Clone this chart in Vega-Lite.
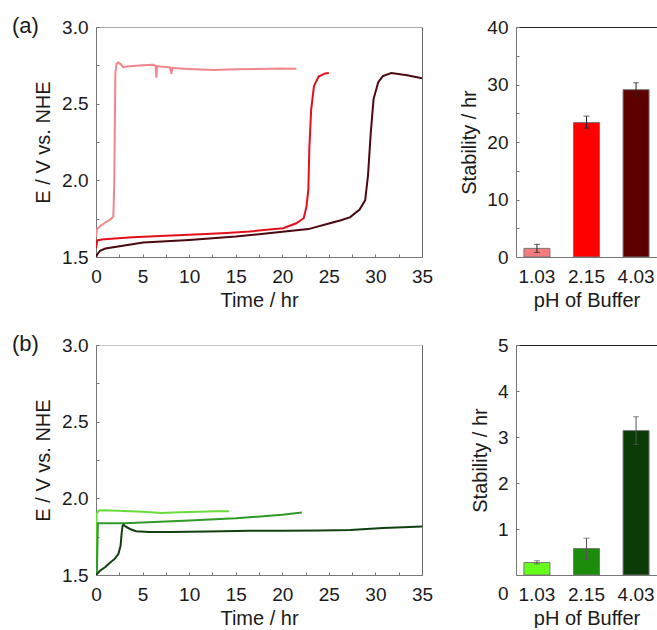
{
  "$schema": "https://vega.github.io/schema/vega-lite/v6.json",
  "autosize": {"type": "pad"},
  "padding": {"left": 12, "top": 15, "right": 0, "bottom": 0},
  "background": "white",
  "config": {
    "font": "Liberation Sans",
    "view": {"stroke": null},
    "axis": {
      "labelFont": "Liberation Sans", "titleFont": "Liberation Sans",
      "labelFontSize": 19, "titleFontSize": 20, "titleFontWeight": "normal",
      "labelColor": "#1a1a1a", "titleColor": "#1a1a1a",
      "domainColor": "#777", "tickColor": "#777", "tickSize": -3,
      "grid": false, "labelOverlap": false, "labelFlush": false
    },
    "title": {"font": "Liberation Sans", "fontSize": 22, "fontWeight": "normal", "color": "#1a1a1a"}
  },
  "resolve": {"scale": {"color": "independent"}},
  "columns": 2,
  "bounds": "flush",
  "spacing": {"row": 88, "column": 94},
  "concat": [
    {
      "width": 326, "height": 230,
      "title": {"text": "(a)", "anchor": "start", "frame": "group", "dx": -84, "dy": 37, "offset": 0, "baseline": "alphabetic"},
      "data": {"name": "lineA"},
      "layer": [
        {
          "mark": {"type": "line", "strokeWidth": 2, "clip": true},
          "encoding": {
            "x": {"field": "t", "type": "quantitative", "title": "Time / hr",
              "scale": {"domain": [0, 35], "nice": false, "zero": false},
              "axis": {"values": [0,2.5,5,7.5,10,12.5,15,17.5,20,22.5,25,27.5,30,32.5,35], "labelExpr": "datum.value % 5 == 0 ? datum.label : ''", "labelPadding": 13, "titlePadding": 4}},
            "y": {"field": "E", "type": "quantitative", "title": "E / V vs. NHE",
              "scale": {"domain": [1.5, 3.0], "nice": false, "zero": false},
              "axis": {"values": [1.5,1.75,2.0,2.25,2.5,2.75,3.0], "format": ".1f", "labelExpr": "round(datum.value*100) % 50 == 0 ? datum.label : ''", "labelPadding": 11, "titlePadding": 8}},
            "color": {"field": "pH", "type": "nominal", "legend": null,
              "scale": {"domain": ["1.03","2.15","4.03"], "range": ["#F2868C","#E3101B","#4A0810"]}}
          }
        },
        {
          "mark": {"type": "line", "opacity": 0},
          "encoding": {
            "x": {"field": "t", "type": "quantitative", "axis": {"orient": "top", "ticks": false, "labels": false, "title": null, "domainColor": "#aaa"}},
            "y": {"field": "E", "type": "quantitative", "axis": {"orient": "right", "ticks": false, "labels": false, "title": null, "domainColor": "#666"}}
          }
        }
      ],
      "resolve": {"axis": {"x": "independent", "y": "independent"}}
    },
    {
      "width": 141, "height": 230,
      "data": {"name": "barA"},
      "layer": [
        {
          "mark": {"type": "bar", "stroke": "#777", "strokeWidth": 1},
          "encoding": {
            "x": {"field": "pH", "type": "nominal", "title": "pH of Buffer",
              "scale": {"paddingInner": 0.475, "paddingOuter": 0.16},
              "axis": {"labelAngle": 0, "ticks": false, "labelPadding": 10, "titlePadding": 4}},
            "y": {"field": "v", "type": "quantitative", "title": "Stability / hr",
              "scale": {"domain": [0, 40], "nice": false},
              "axis": {"values": [0,5,10,15,20,25,30,35,40], "format": "d", "labelExpr": "datum.value % 10 == 0 ? datum.label : ''", "labelPadding": 11, "titlePadding": 7}},
            "color": {"field": "pH", "type": "nominal", "legend": null,
              "scale": {"domain": ["1.03","2.15","4.03"], "range": ["#F47C80","#FF0000","#5E0000"]}}
          }
        },
        {
          "mark": {"type": "errorbar", "ticks": {"size": 6}, "color": "#222"},
          "encoding": {
            "x": {"field": "pH", "type": "nominal", "axis": null},
            "y": {"field": "lo", "type": "quantitative", "axis": null},
            "y2": {"field": "hi"}
          }
        },
        {
          "mark": {"type": "bar", "opacity": 0},
          "encoding": {
            "x": {"field": "pH", "type": "nominal", "axis": {"orient": "top", "ticks": false, "labels": false, "title": null, "domainColor": "#222"}},
            "y": {"field": "v", "type": "quantitative", "axis": null}
          }
        }
      ],
      "resolve": {"axis": {"x": "independent", "y": "independent"}}
    },
    {
      "width": 326, "height": 230,
      "title": {"text": "(b)", "anchor": "start", "frame": "group", "dx": -84, "dy": 37, "offset": 0, "baseline": "alphabetic"},
      "data": {"name": "lineB"},
      "layer": [
        {
          "mark": {"type": "line", "strokeWidth": 2, "clip": true},
          "encoding": {
            "x": {"field": "t", "type": "quantitative", "title": "Time / hr",
              "scale": {"domain": [0, 35], "nice": false, "zero": false},
              "axis": {"values": [0,2.5,5,7.5,10,12.5,15,17.5,20,22.5,25,27.5,30,32.5,35], "labelExpr": "datum.value % 5 == 0 ? datum.label : ''", "labelPadding": 13, "titlePadding": 4}},
            "y": {"field": "E", "type": "quantitative", "title": "E / V vs. NHE",
              "scale": {"domain": [1.5, 3.0], "nice": false, "zero": false},
              "axis": {"values": [1.5,1.75,2.0,2.25,2.5,2.75,3.0], "format": ".1f", "labelExpr": "round(datum.value*100) % 50 == 0 ? datum.label : ''", "labelPadding": 11, "titlePadding": 8}},
            "color": {"field": "pH", "type": "nominal", "legend": null,
              "scale": {"domain": ["1.03","2.15","4.03"], "range": ["#6ADB3C","#2F9A27","#123F10"]}}
          }
        },
        {
          "mark": {"type": "line", "opacity": 0},
          "encoding": {
            "x": {"field": "t", "type": "quantitative", "axis": {"orient": "top", "ticks": false, "labels": false, "title": null, "domainColor": "#ccc"}},
            "y": {"field": "E", "type": "quantitative", "axis": {"orient": "right", "ticks": false, "labels": false, "title": null, "domainColor": "#666"}}
          }
        }
      ],
      "resolve": {"axis": {"x": "independent", "y": "independent"}}
    },
    {
      "width": 141, "height": 230,
      "data": {"name": "barB"},
      "layer": [
        {
          "mark": {"type": "bar", "stroke": "#777", "strokeWidth": 1},
          "encoding": {
            "x": {"field": "pH", "type": "nominal", "title": "pH of Buffer",
              "scale": {"paddingInner": 0.475, "paddingOuter": 0.16},
              "axis": {"labelAngle": 0, "ticks": false, "labelPadding": 10, "titlePadding": 4}},
            "y": {"field": "v", "type": "quantitative", "title": "Stability / hr",
              "scale": {"domain": [0, 5], "nice": false},
              "axis": {"values": [0,0.5,1,1.5,2,2.5,3,3.5,4,4.5,5], "format": "d", "labelExpr": "datum.value % 1 == 0 ? datum.label : ''", "labelPadding": 11, "titlePadding": 7,
                "labelOffset": {"condition": {"test": "datum.value == 0", "value": 18}, "value": 0}}},
            "color": {"field": "pH", "type": "nominal", "legend": null,
              "scale": {"domain": ["1.03","2.15","4.03"], "range": ["#66FF1A","#1C8C0C","#0A3A06"]}}
          }
        },
        {
          "mark": {"type": "errorbar", "ticks": {"size": 6}, "color": "#555"},
          "encoding": {
            "x": {"field": "pH", "type": "nominal", "axis": null},
            "y": {"field": "lo", "type": "quantitative", "axis": null},
            "y2": {"field": "hi"}
          }
        },
        {
          "mark": {"type": "bar", "opacity": 0},
          "encoding": {
            "x": {"field": "pH", "type": "nominal", "axis": {"orient": "top", "ticks": false, "labels": false, "title": null, "domainColor": "#222"}},
            "y": {"field": "v", "type": "quantitative", "axis": null}
          }
        }
      ],
      "resolve": {"axis": {"x": "independent", "y": "independent"}}
    }
  ],
  "datasets": {
    "barA": [
      {"pH": "1.03", "v": 1.5, "lo": 0.8, "hi": 2.2},
      {"pH": "2.15", "v": 23.4, "lo": 22.4, "hi": 24.5},
      {"pH": "4.03", "v": 29.1, "lo": 28.0, "hi": 30.3}
    ],
    "barB": [
      {"pH": "1.03", "v": 0.27, "lo": 0.24, "hi": 0.31},
      {"pH": "2.15", "v": 0.575, "lo": 0.34, "hi": 0.8},
      {"pH": "4.03", "v": 3.14, "lo": 2.84, "hi": 3.44}
    ],
    "lineA": [
      {"pH": "1.03", "t": 0, "E": 1.63},
      {"pH": "1.03", "t": 0.1, "E": 1.68},
      {"pH": "1.03", "t": 0.43, "E": 1.70},
      {"pH": "1.03", "t": 1.0, "E": 1.725},
      {"pH": "1.03", "t": 1.5, "E": 1.742},
      {"pH": "1.03", "t": 1.86, "E": 1.764},
      {"pH": "1.03", "t": 1.95, "E": 1.95},
      {"pH": "1.03", "t": 2.02, "E": 2.35},
      {"pH": "1.03", "t": 2.08, "E": 2.70},
      {"pH": "1.03", "t": 2.2, "E": 2.76},
      {"pH": "1.03", "t": 2.4, "E": 2.768},
      {"pH": "1.03", "t": 2.7, "E": 2.755},
      {"pH": "1.03", "t": 2.9, "E": 2.738},
      {"pH": "1.03", "t": 3.3, "E": 2.742},
      {"pH": "1.03", "t": 4.0, "E": 2.746},
      {"pH": "1.03", "t": 5.0, "E": 2.75},
      {"pH": "1.03", "t": 6.15, "E": 2.753},
      {"pH": "1.03", "t": 6.4, "E": 2.745},
      {"pH": "1.03", "t": 6.48, "E": 2.67},
      {"pH": "1.03", "t": 6.56, "E": 2.745},
      {"pH": "1.03", "t": 7.2, "E": 2.74},
      {"pH": "1.03", "t": 7.95, "E": 2.736},
      {"pH": "1.03", "t": 8.1, "E": 2.695},
      {"pH": "1.03", "t": 8.2, "E": 2.732},
      {"pH": "1.03", "t": 10.0, "E": 2.726},
      {"pH": "1.03", "t": 12.6, "E": 2.72},
      {"pH": "1.03", "t": 15.0, "E": 2.724},
      {"pH": "1.03", "t": 17.5, "E": 2.726},
      {"pH": "1.03", "t": 19.75, "E": 2.729},
      {"pH": "1.03", "t": 21.5, "E": 2.728},
      {"pH": "2.15", "t": 0, "E": 1.557},
      {"pH": "2.15", "t": 0.14, "E": 1.608},
      {"pH": "2.15", "t": 0.6, "E": 1.614},
      {"pH": "2.15", "t": 2.0, "E": 1.62},
      {"pH": "2.15", "t": 3.9, "E": 1.629},
      {"pH": "2.15", "t": 7.5, "E": 1.638},
      {"pH": "2.15", "t": 11.2, "E": 1.648},
      {"pH": "2.15", "t": 14.0, "E": 1.656},
      {"pH": "2.15", "t": 16.5, "E": 1.666},
      {"pH": "2.15", "t": 18.3, "E": 1.677},
      {"pH": "2.15", "t": 20.1, "E": 1.688},
      {"pH": "2.15", "t": 21.5, "E": 1.72},
      {"pH": "2.15", "t": 22.3, "E": 1.753},
      {"pH": "2.15", "t": 22.6, "E": 1.83},
      {"pH": "2.15", "t": 22.8, "E": 1.94},
      {"pH": "2.15", "t": 22.9, "E": 2.2},
      {"pH": "2.15", "t": 23.1, "E": 2.46},
      {"pH": "2.15", "t": 23.4, "E": 2.615},
      {"pH": "2.15", "t": 23.9, "E": 2.677},
      {"pH": "2.15", "t": 24.6, "E": 2.697},
      {"pH": "2.15", "t": 25.0, "E": 2.70},
      {"pH": "4.03", "t": 0, "E": 1.50},
      {"pH": "4.03", "t": 0.15, "E": 1.518},
      {"pH": "4.03", "t": 0.43, "E": 1.541},
      {"pH": "4.03", "t": 1.0, "E": 1.555},
      {"pH": "4.03", "t": 2.2, "E": 1.567},
      {"pH": "4.03", "t": 5.07, "E": 1.594},
      {"pH": "4.03", "t": 10.0, "E": 1.611},
      {"pH": "4.03", "t": 15.0, "E": 1.633},
      {"pH": "4.03", "t": 17.5, "E": 1.648},
      {"pH": "4.03", "t": 20.0, "E": 1.664},
      {"pH": "4.03", "t": 22.8, "E": 1.682},
      {"pH": "4.03", "t": 25.1, "E": 1.72},
      {"pH": "4.03", "t": 26.3, "E": 1.74},
      {"pH": "4.03", "t": 27.3, "E": 1.76},
      {"pH": "4.03", "t": 28.3, "E": 1.81},
      {"pH": "4.03", "t": 28.9, "E": 1.87},
      {"pH": "4.03", "t": 29.2, "E": 2.03},
      {"pH": "4.03", "t": 29.5, "E": 2.31},
      {"pH": "4.03", "t": 29.8, "E": 2.53},
      {"pH": "4.03", "t": 30.3, "E": 2.64},
      {"pH": "4.03", "t": 30.8, "E": 2.68},
      {"pH": "4.03", "t": 31.7, "E": 2.70},
      {"pH": "4.03", "t": 33.4, "E": 2.685},
      {"pH": "4.03", "t": 35.0, "E": 2.665}
    ],
    "lineB": [
      {"pH": "1.03", "t": 0, "E": 1.5},
      {"pH": "1.03", "t": 0.06, "E": 1.90},
      {"pH": "1.03", "t": 0.3, "E": 1.92},
      {"pH": "1.03", "t": 1.0, "E": 1.922},
      {"pH": "1.03", "t": 3.0, "E": 1.918},
      {"pH": "1.03", "t": 5.0, "E": 1.912},
      {"pH": "1.03", "t": 7.0, "E": 1.905},
      {"pH": "1.03", "t": 9.0, "E": 1.91},
      {"pH": "1.03", "t": 11.0, "E": 1.913},
      {"pH": "1.03", "t": 13.0, "E": 1.916},
      {"pH": "1.03", "t": 14.3, "E": 1.915},
      {"pH": "2.15", "t": 0, "E": 1.5},
      {"pH": "2.15", "t": 0.1, "E": 1.53},
      {"pH": "2.15", "t": 0.2, "E": 1.838},
      {"pH": "2.15", "t": 1.0, "E": 1.838},
      {"pH": "2.15", "t": 3.0, "E": 1.838},
      {"pH": "2.15", "t": 5.0, "E": 1.842},
      {"pH": "2.15", "t": 10.0, "E": 1.855},
      {"pH": "2.15", "t": 15.0, "E": 1.87},
      {"pH": "2.15", "t": 20.0, "E": 1.893},
      {"pH": "2.15", "t": 22.1, "E": 1.908},
      {"pH": "4.03", "t": 0, "E": 1.5},
      {"pH": "4.03", "t": 0.43, "E": 1.528},
      {"pH": "4.03", "t": 1.0, "E": 1.552},
      {"pH": "4.03", "t": 1.5, "E": 1.58},
      {"pH": "4.03", "t": 2.0, "E": 1.605},
      {"pH": "4.03", "t": 2.4, "E": 1.637},
      {"pH": "4.03", "t": 2.64, "E": 1.69},
      {"pH": "4.03", "t": 2.75, "E": 1.77},
      {"pH": "4.03", "t": 2.85, "E": 1.82},
      {"pH": "4.03", "t": 2.95, "E": 1.828},
      {"pH": "4.03", "t": 3.2, "E": 1.815},
      {"pH": "4.03", "t": 3.65, "E": 1.80},
      {"pH": "4.03", "t": 4.3, "E": 1.785},
      {"pH": "4.03", "t": 5.7, "E": 1.78},
      {"pH": "4.03", "t": 8.0, "E": 1.78},
      {"pH": "4.03", "t": 12.0, "E": 1.783},
      {"pH": "4.03", "t": 16.5, "E": 1.788},
      {"pH": "4.03", "t": 20.0, "E": 1.789},
      {"pH": "4.03", "t": 24.0, "E": 1.79},
      {"pH": "4.03", "t": 27.3, "E": 1.793},
      {"pH": "4.03", "t": 30.8, "E": 1.806},
      {"pH": "4.03", "t": 33.0, "E": 1.812},
      {"pH": "4.03", "t": 35.0, "E": 1.817}
    ]
  }
}
